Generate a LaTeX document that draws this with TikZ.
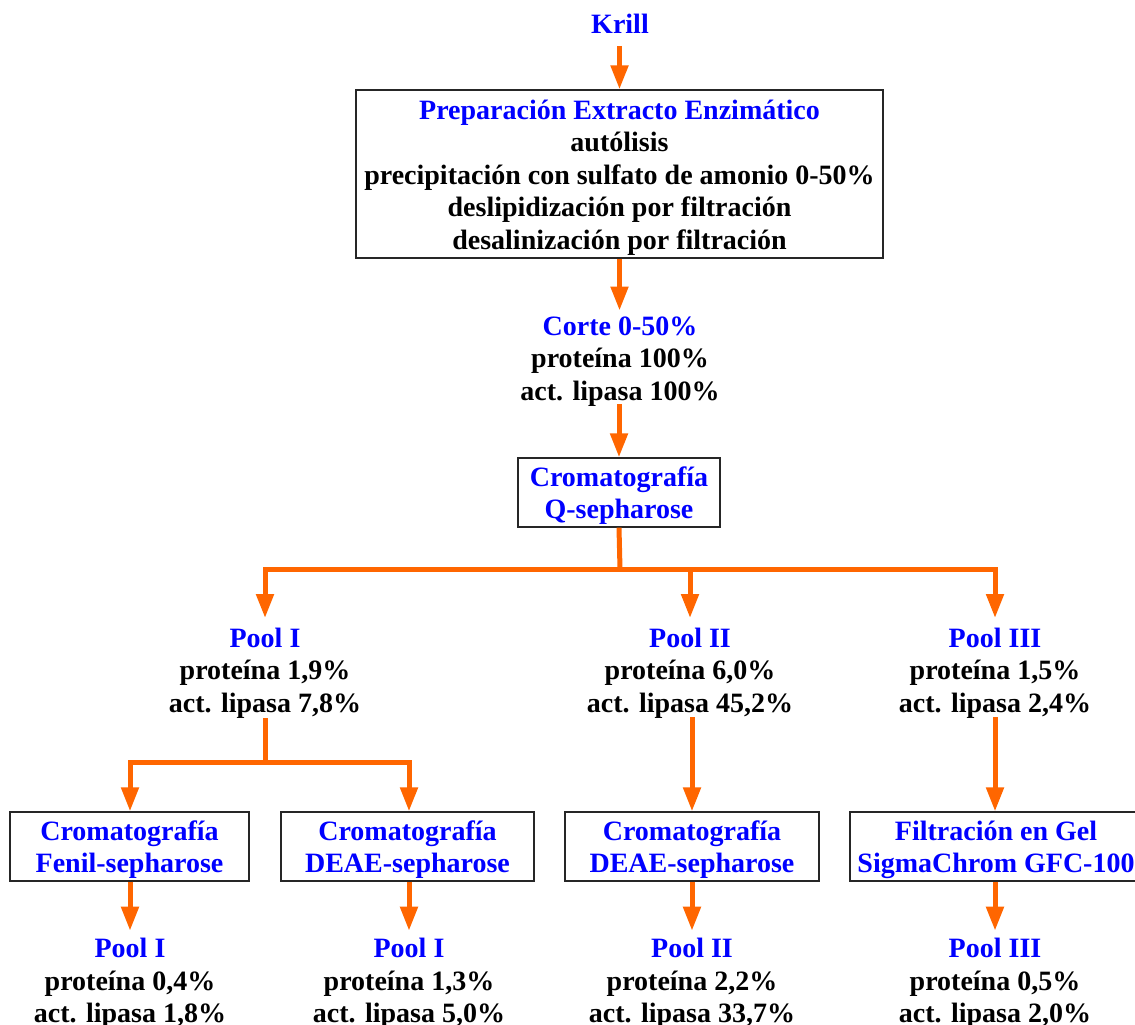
\documentclass[tikz,border=0pt]{standalone}
\usepackage{fontspec}
\setmainfont{Liberation Serif}
\usetikzlibrary{arrows.meta,calc}
\definecolor{flow}{RGB}{255,102,0}
\definecolor{ttl}{RGB}{0,0,255}
\newcommand{\topstrut}{\rule{0pt}{26pt}}
\begin{document}
\begin{tikzpicture}[x=1pt,y=-1pt,
  txt/.style={align=center,font=\bfseries\fontsize{28}{32.5}\selectfont,inner sep=0pt},
  boxnode/.style={txt,draw=black!85,line width=1.3pt,fill=white,text=ttl},
  flowline/.style={draw=flow,line width=5pt},
  flowarrow/.style={flowline,-{Triangle[width=17pt,length=24pt]}},
]
\useasboundingbox (0,0) rectangle (1135,1025);

\node[txt,text=ttl] (krill) at (620,24) {Krill};
\node[boxnode,text=black,minimum width=527pt,minimum height=168pt] (prep) at (619.5,174)
  {\topstrut\textcolor{ttl}{Preparación Extracto Enzimático}\\autólisis\\precipitación con sulfato de amonio 0-50\%\\deslipidización por filtración\\desalinización por filtración};
\node[txt] (corte) at (620,361.5) {\textcolor{ttl}{Corte 0-50\%}\\proteína 100\%\\act. lipasa 100\%};
\node[boxnode,minimum width=202pt,minimum height=69pt] (q) at (619,492.5) {\topstrut Cromatografía\\Q-sepharose};

\coordinate (j1) at (620,569);
\node[txt] (p1) at (265,673) {\textcolor{ttl}{Pool I}\\proteína 1,9\%\\act. lipasa 7,8\%};
\node[txt] (p2) at (690,673) {\textcolor{ttl}{Pool II}\\proteína 6,0\%\\act. lipasa 45,2\%};
\node[txt] (p3) at (995,673) {\textcolor{ttl}{Pool III}\\proteína 1,5\%\\act. lipasa 2,4\%};

\coordinate (j2) at (265,762);
\node[boxnode,minimum width=239pt,minimum height=69pt] (b1) at (129.5,846.5) {\topstrut Cromatografía\\Fenil-sepharose};
\node[boxnode,minimum width=253pt,minimum height=69pt] (b2) at (407.5,846.5) {\topstrut Cromatografía\\DEAE-sepharose};
\node[boxnode,minimum width=254pt,minimum height=69pt] (b3) at (692,846.5) {\topstrut Cromatografía\\DEAE-sepharose};
\node[boxnode,minimum width=292pt,minimum height=69pt] (b4) at (996,846.5) {\topstrut Filtración en Gel\\SigmaChrom GFC-100};

\node[txt] (r1) at (130,983.5) {\textcolor{ttl}{Pool I}\\proteína 0,4\%\\act. lipasa 1,8\%};
\node[txt] (r2) at (409,983.5) {\textcolor{ttl}{Pool I}\\proteína 1,3\%\\act. lipasa 5,0\%};
\node[txt] (r3) at (692,983.5) {\textcolor{ttl}{Pool II}\\proteína 2,2\%\\act. lipasa 33,7\%};
\node[txt] (r4) at (995,983.5) {\textcolor{ttl}{Pool III}\\proteína 0,5\%\\act. lipasa 2,0\%};

\draw[flowarrow] ($(prep.north |- krill.south)+(0,12)$) -- (prep.north);
\draw[flowarrow] (prep.south) -- ($(prep.south |- corte.north)+(0,-6)$);
\draw[flowarrow] ($(q.north)+(0,-53)$) -- (q.north);
\draw[flowline] (q.south) -- (j1);
\draw[flowarrow] (j1) -| ($(p1.north |- j1)+(0,49)$);
\draw[flowarrow] (j1) -| ($(p2.north |- j1)+(0,49)$);
\draw[flowarrow] (j1) -| ($(p3.north |- j1)+(0,49)$);
\draw[flowline] ($(p1.south |- j2)+(0,-44)$) -- (j2);
\draw[flowarrow] (j2) -| ([xshift=0.5pt]b1.north);
\draw[flowarrow] (j2) -| ([xshift=1.5pt]b2.north);
\draw[flowarrow] ($(b3.north)+(0,-94)$) -- (b3.north);
\draw[flowarrow] ($([xshift=-1pt]b4.north)+(0,-94)$) -- ([xshift=-1pt]b4.north);
\draw[flowarrow] ([xshift=0.5pt]b1.south) -- ($([xshift=0.5pt]b1.south)+(0,49)$);
\draw[flowarrow] ([xshift=1.5pt]b2.south) -- ($([xshift=1.5pt]b2.south)+(0,49)$);
\draw[flowarrow] (b3.south) -- ($(b3.south)+(0,49)$);
\draw[flowarrow] ([xshift=-1pt]b4.south) -- ($([xshift=-1pt]b4.south)+(0,49)$);
\end{tikzpicture}
\end{document}
